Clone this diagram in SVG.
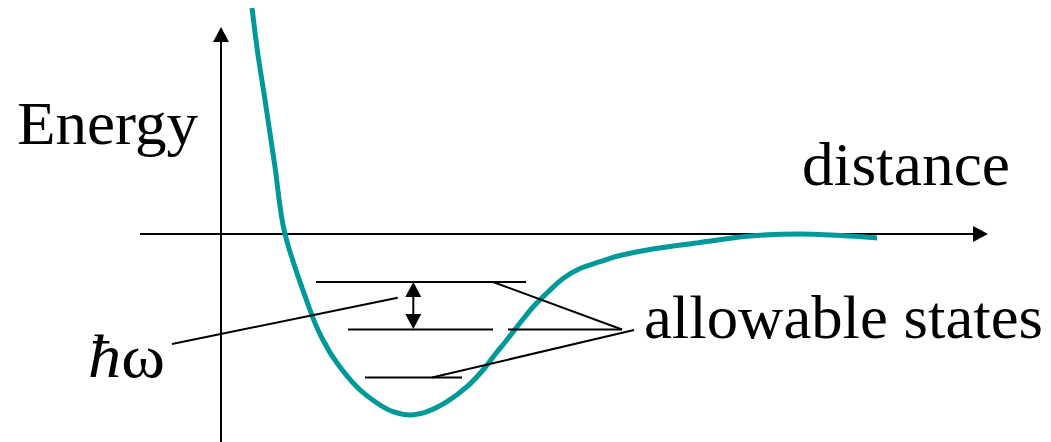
<svg xmlns="http://www.w3.org/2000/svg" width="1051" height="442" viewBox="0 0 1051 442">
<style>
.ln{stroke:#000;stroke-width:2;fill:none}
.lbl{font-family:'Liberation Serif','Times New Roman',serif;font-size:62px;fill:#000}
.curve{stroke:#009999;stroke-width:5;fill:none;stroke-linecap:butt;stroke-linejoin:round}
</style>
<rect width="1051" height="442" fill="#fff"/>
<g id="axes">
<line class="ln" x1="221" y1="442" x2="221" y2="40"/>
<polygon points="221,27 213,42 229,42" fill="#000"/>
<line class="ln" x1="140" y1="234" x2="975" y2="234"/>
<polygon points="988,234 973,226 973,242" fill="#000"/>
</g>
<g id="potential">
<path class="curve" d="M252,8 C253,15.8 255.8,39.7 258,55 C260.2,70.3 262.2,81.3 265,100 C267.8,118.7 271.7,144.7 275,167 C278.3,189.3 279.2,210.2 285,234 C290.8,257.8 303.7,292.3 310,310 C316.3,327.7 318.5,331.2 323,340 C327.5,348.8 331.3,355.2 337,363 C342.7,370.8 350.3,380.3 357,387 C363.7,393.7 371,398.9 377,403 C383,407.1 387.5,409.7 393,411.7 C398.5,413.7 404.3,415 410,415 C415.7,415 420.8,413.9 427,411.7 C433.2,409.5 440.3,405.9 447,401.7 C453.7,397.5 461,392 467,386.7 C473,381.4 478.2,375.6 483,370 C487.8,364.4 491.8,358.6 496,353.3 C500.2,348.1 504,343.6 508,338.5 C512,333.5 515.8,328.3 520,323 C524.2,317.8 528.5,312.2 533,307 C537.5,302 542,297.8 547,293 C552,288.3 557.5,282.6 563,278.5 C568.5,274.4 573.8,271.3 580,268.5 C586.2,265.7 593.3,263.9 600,261.7 C606.7,259.5 611.7,257.5 620,255.5 C628.3,253.5 636.7,251.7 650,249.5 C663.3,247.3 683.3,244.8 700,242.5 C716.7,240.3 733.3,237.4 750,236 C766.7,234.6 783.3,234 800,234 C816.7,234 837.2,235.3 850,236 C862.8,236.7 872.5,237.7 877,238"/>
</g>
<g id="levels">
<line class="ln" x1="316" y1="282" x2="526" y2="282"/>
<line class="ln" x1="348" y1="329.5" x2="493" y2="329.5"/>
<line class="ln" x1="508" y1="329.5" x2="622" y2="329.5"/>
<line class="ln" x1="365" y1="377.5" x2="462" y2="377.5"/>
</g>
<g id="gap-arrow">
<line class="ln" x1="413.3" y1="292" x2="413.3" y2="319"/>
<polygon points="413.3,282 405.3,297 421.3,297" fill="#000"/>
<polygon points="413.3,329 405.3,314 421.3,314" fill="#000"/>
</g>
<g id="connectors">
<line class="ln" x1="493" y1="282" x2="622" y2="329.5"/>
<line class="ln" x1="432" y1="377.5" x2="634" y2="330"/>
<line class="ln" x1="397.7" y1="297.7" x2="172" y2="344"/>
</g>
<g id="label-energy"><text class="lbl" font-family="Liberation Serif, serif" x="17" y="144" textLength="181" lengthAdjust="spacingAndGlyphs">Energy</text></g>
<g id="label-distance"><text class="lbl" font-family="Liberation Serif, serif" x="802" y="185" textLength="208" lengthAdjust="spacingAndGlyphs">distance</text></g>
<g id="label-states"><text class="lbl" font-family="Liberation Serif, serif" x="644" y="338" textLength="399" lengthAdjust="spacingAndGlyphs">allowable states</text></g>
<g id="label-hw"><text class="lbl" font-family="Liberation Serif, serif" x="88" y="377" textLength="77" lengthAdjust="spacingAndGlyphs"><tspan font-style="italic">ħ</tspan>ω</text></g>
</svg>
